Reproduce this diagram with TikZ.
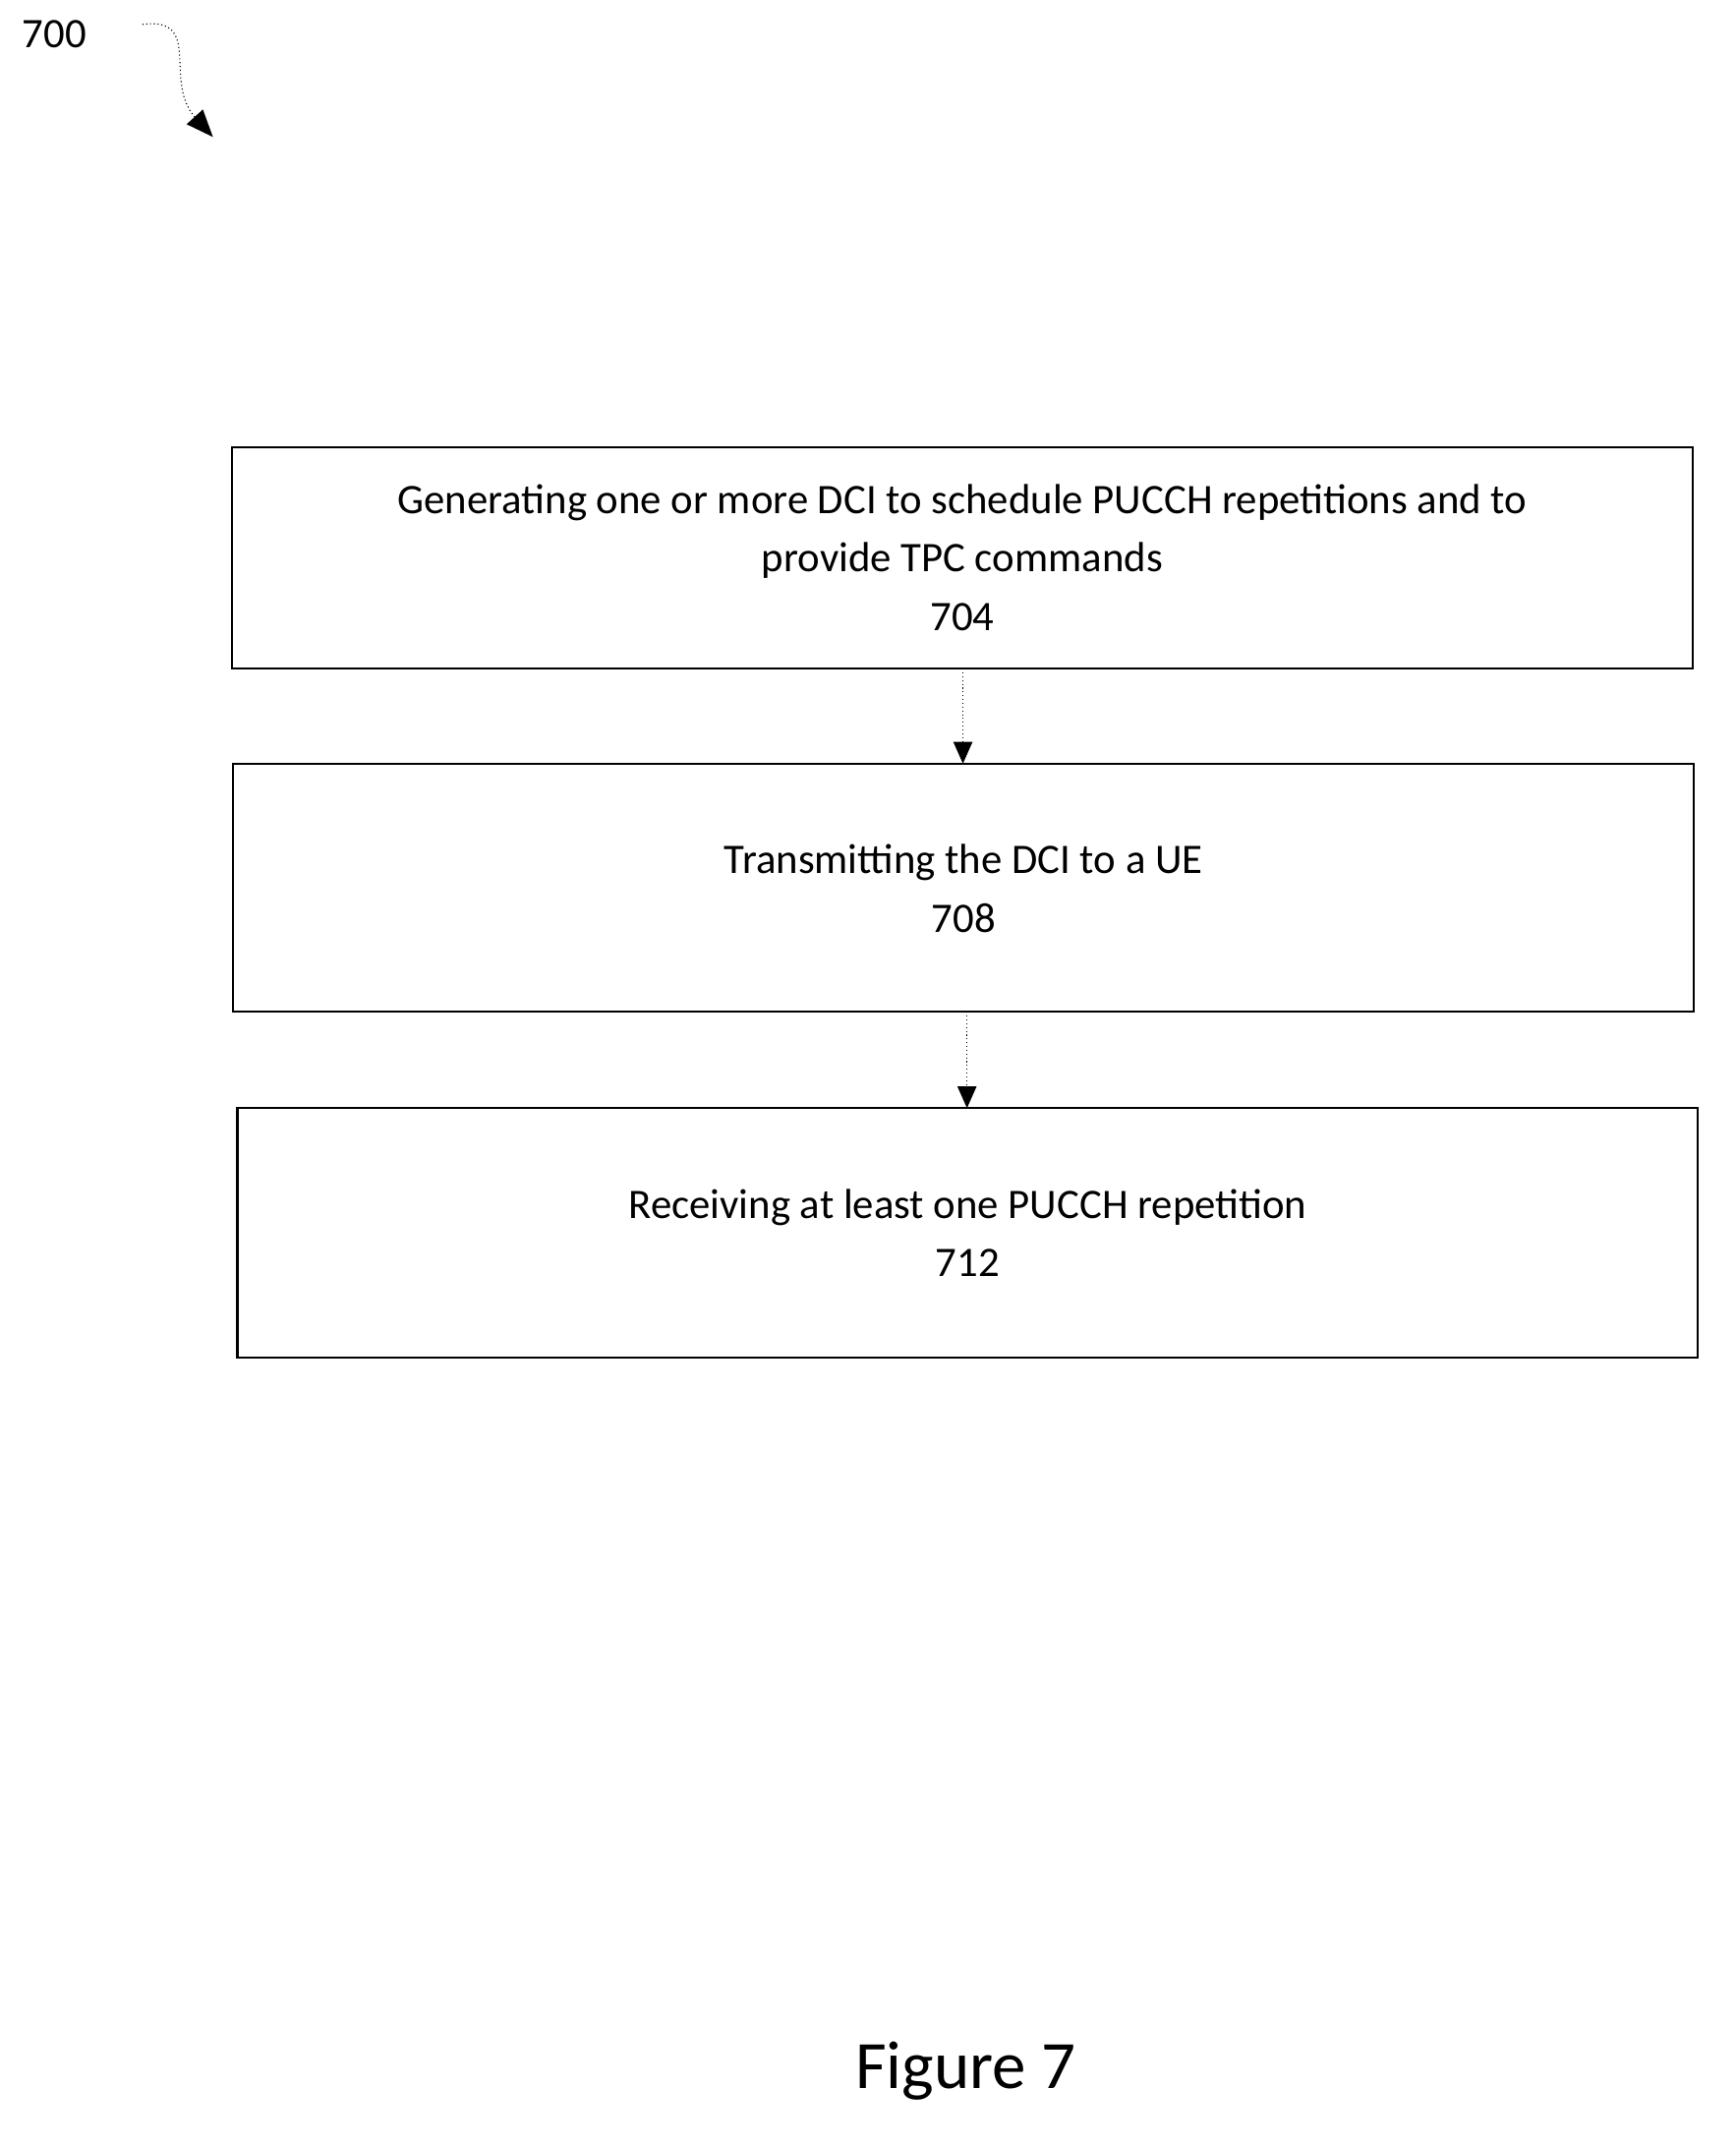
\documentclass[tikz,border=0pt]{standalone}
\usepackage{fontspec}
\setmainfont{Carlito}
\usetikzlibrary{arrows.meta}
\begin{document}
\begin{tikzpicture}[x=0.5pt,y=-0.5pt,
  box/.style={draw,line width=0.8pt,fill=white},
  lbl/.style={align=center,font=\fontsize{15.5}{21.5}\selectfont},
  arr/.style={-{Triangle[length=8pt,width=7pt]},line width=0.4pt,densely dotted}]
\useasboundingbox (0,0) rectangle (1280,1583);
\draw[box] (171,330) rectangle (1248,493);
\node[lbl] (t1) at (709.5,411) {Generating one or more DCI to schedule PUCCH repetitions and to\\provide TPC commands\\704};
\draw[box] (172,563) rectangle (1249,746);
\node[lbl] (t2) at (710.5,655) {Transmitting the DCI to a UE\\708};
\draw[box] (175,817) rectangle (1252,1001);
\node[lbl] (t3) at (713.5,909) {Receiving at least one PUCCH repetition\\712};
\coordinate (a1) at (710,493); \coordinate (b1) at (710,563);
\coordinate (a2) at (713,746); \coordinate (b2) at (713,817);
\draw[arr] (a1) -- (b1);
\draw[arr] (a2) -- (b2);
\node[font=\fontsize{15.5}{18}\selectfont] (n700) at (40,25) {700};
\coordinate (s0) at (105,18); \coordinate (s1) at (157,101);
\draw[densely dotted,line width=0.4pt,-{Triangle[length=10pt,width=8pt]}] (s0) .. controls (150,12) and (120,60) .. (s1);
\node[font=\fontsize{25}{30}\selectfont] (fig) at (712,1527) {Figure 7};
\end{tikzpicture}
\end{document}
